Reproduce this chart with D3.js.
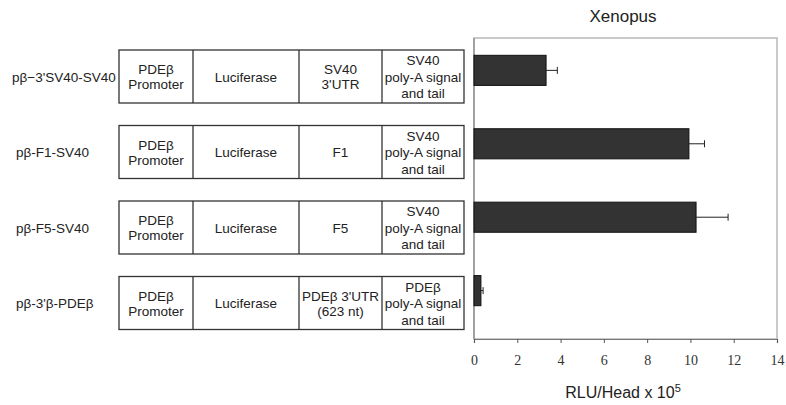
<!DOCTYPE html>
<html>
<head>
<meta charset="utf-8">
<script src="https://cdn.jsdelivr.net/npm/d3@7"></script>
<style>
  html, body { margin: 0; padding: 0; background: #fff; }
  svg { display: block; }
</style>
</head>
<body>
<svg id="chart" width="786" height="405"></svg>
<script>
// constructos y valores (RLU/Head x 10^5)
const constructs = ["pβ−3'SV40-SV40", "pβ-F1-SV40", "pβ-F5-SV40", "pβ-3'β-PDEβ"];
const rlu = [3.33, 9.93, 10.26, 0.32];
const rluErr = [0.52, 0.72, 1.48, 0.1];
const ticks = [0, 2, 4, 6, 8, 10, 12, 14];

// segmentos de cada construcción (líneas de texto por caja)
const segPromoter = [["PDEβ", "Promoter"], ["PDEβ", "Promoter"], ["PDEβ", "Promoter"], ["PDEβ", "Promoter"]];
const segLuc = [["Luciferase"], ["Luciferase"], ["Luciferase"], ["Luciferase"]];
const segUtr = [["SV40", "3'UTR"], ["F1"], ["F5"], ["PDEβ 3'UTR", "(623 nt)"]];
const segPolyA = [["SV40", "poly-A signal", "and tail"], ["SV40", "poly-A signal", "and tail"],
                  ["SV40", "poly-A signal", "and tail"], ["PDEβ", "poly-A signal", "and tail"]];

const svg = d3.select('#chart');
const SANS = "'Liberation Sans', Arial, Helvetica, sans-serif";
const SERIF = "'Liberation Serif', 'Times New Roman', serif";

// ---- panel de barras ----
const P = { left: 474, right: 777, top: 38, bottom: 339 };
const x = d3.scaleLinear().domain([0, 14]).range([P.left, P.right]);
const y = d3.scaleBand().domain(d3.range(constructs.length)).range([23, 338]).paddingInner(0.59).paddingOuter(0.44);

// marco
svg.append('rect')
  .attr('x', P.left).attr('y', P.top).attr('width', P.right - P.left).attr('height', P.bottom - P.top)
  .attr('fill', 'none').attr('stroke', '#b8b8b8').attr('stroke-width', 1.5);
svg.append('line').attr('x1', P.left).attr('x2', P.left).attr('y1', P.top).attr('y2', P.bottom)
  .attr('stroke', '#888').attr('stroke-width', 1.2);

// eje X
const gx = svg.append('g').attr('transform', `translate(0,${P.bottom})`)
  .call(d3.axisBottom(x).tickValues(ticks).tickSize(4).tickPadding(12).tickFormat(d3.format('d')));
gx.select('.domain').attr('stroke', '#777').attr('stroke-width', 1.2);
gx.selectAll('.tick line').attr('stroke', '#555');
gx.selectAll('.tick text').attr('font-family', SERIF).style('font-size', '14px').attr('fill', '#333');

// barras
const gBars = svg.append('g');
gBars.selectAll('rect').data(rlu).join('rect')
  .attr('x', x(0)).attr('y', (d, i) => y(i))
  .attr('width', d => x(d) - x(0)).attr('height', y.bandwidth())
  .attr('fill', '#333').attr('stroke', '#111').attr('stroke-width', 1);

// barras de error (solo lado positivo)
const gErr = svg.append('g').attr('stroke', '#222').attr('stroke-width', 1);
rlu.forEach((v, i) => {
  const cy = y(i) + y.bandwidth() / 2;
  gErr.append('line').attr('x1', x(v)).attr('x2', x(v + rluErr[i])).attr('y1', cy).attr('y2', cy);
  gErr.append('line').attr('x1', x(v + rluErr[i])).attr('x2', x(v + rluErr[i])).attr('y1', cy - 3.5).attr('y2', cy + 3.5);
});

// títulos
svg.append('text').attr('x', 623).attr('y', 22).attr('text-anchor', 'middle')
  .attr('font-family', SANS).style('font-size', '17px').attr('fill', '#222').text('Xenopus');
const xl = svg.append('text').attr('x', 623).attr('y', 398).attr('text-anchor', 'middle')
  .attr('font-family', SANS).style('font-size', '16px').attr('fill', '#222');
xl.append('tspan').text('RLU/Head x 10');
xl.append('tspan').attr('dy', -6).style('font-size', '11px').text('5');

// ---- esquemas de construcciones ----
const boxL = 119, boxR = 464;
const cuts = [boxL, 193, 299, 382, boxR];
const rowC = d3.scaleLinear().domain([0, 3]).range([76.5, 303]);
const boxH = 53;

constructs.forEach((name, i) => {
  const cy = rowC(i);
  const g = svg.append('g');
  g.append('text').attr('x', i === 0 ? 12 : 16).attr('y', cy + 5)
    .attr('font-family', SANS).style('font-size', '13.5px').attr('fill', '#222').text(name);
  g.append('rect').attr('x', boxL).attr('y', cy - boxH / 2).attr('width', boxR - boxL).attr('height', boxH)
    .attr('fill', '#fff').attr('stroke', '#333').attr('stroke-width', 1.3);
  cuts.slice(1, -1).forEach(cx => g.append('line')
    .attr('x1', cx).attr('x2', cx).attr('y1', cy - boxH / 2).attr('y2', cy + boxH / 2)
    .attr('stroke', '#333').attr('stroke-width', 1.3));
  [segPromoter[i], segLuc[i], segUtr[i], segPolyA[i]].forEach((lines, k) => {
    const mx = (cuts[k] + cuts[k + 1]) / 2;
    const lh = lines.length === 3 ? 16.5 : 15;
    const y0 = cy - (lines.length - 1) * lh / 2 + 5;
    lines.forEach((ln, j) => g.append('text').attr('x', mx).attr('y', y0 + j * lh)
      .attr('text-anchor', 'middle').attr('font-family', SANS).style('font-size', '13.5px')
      .attr('fill', '#222').text(ln));
  });
});
</script>
</body>
</html>
